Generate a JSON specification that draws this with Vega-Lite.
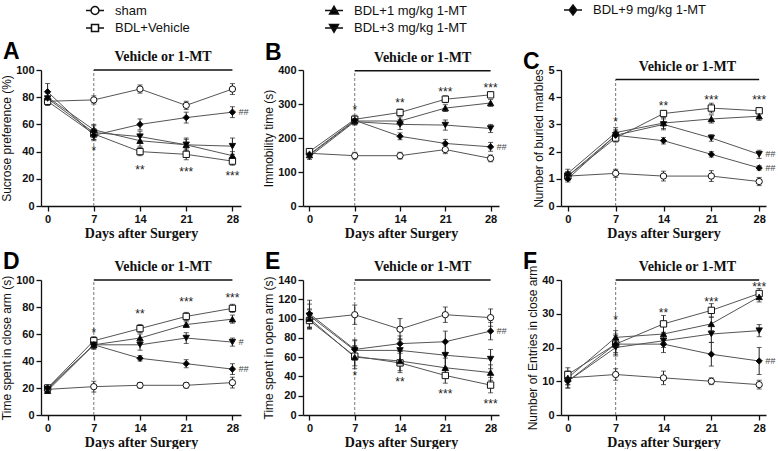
{
"$schema": "https://vega.github.io/schema/vega-lite/v6.json",
"background": "white",
"padding": {"left": 0, "top": 0, "right": 0, "bottom": 0},
"datasets": {
"period": [{"start": 7, "end": 28, "label": "Vehicle or 1-MT"}],
"series": [
{"p":"A","g":"sham","d":0,"m":77,"e":3},{"p":"A","g":"sham","d":7,"m":78,"e":3},{"p":"A","g":"sham","d":14,"m":86,"e":3},{"p":"A","g":"sham","d":21,"m":74,"e":3},{"p":"A","g":"sham","d":28,"m":86,"e":4},
{"p":"A","g":"BDL+Vehicle","d":0,"m":77,"e":3},{"p":"A","g":"BDL+Vehicle","d":7,"m":53,"e":4},{"p":"A","g":"BDL+Vehicle","d":14,"m":40,"e":3},{"p":"A","g":"BDL+Vehicle","d":21,"m":38,"e":4},{"p":"A","g":"BDL+Vehicle","d":28,"m":33,"e":3},
{"p":"A","g":"BDL+1 mg/kg 1-MT","d":0,"m":80,"e":4},{"p":"A","g":"BDL+1 mg/kg 1-MT","d":7,"m":56,"e":4},{"p":"A","g":"BDL+1 mg/kg 1-MT","d":14,"m":48,"e":4},{"p":"A","g":"BDL+1 mg/kg 1-MT","d":21,"m":45,"e":4},{"p":"A","g":"BDL+1 mg/kg 1-MT","d":28,"m":37,"e":3},
{"p":"A","g":"BDL+3 mg/kg 1-MT","d":0,"m":79,"e":4},{"p":"A","g":"BDL+3 mg/kg 1-MT","d":7,"m":54,"e":5},{"p":"A","g":"BDL+3 mg/kg 1-MT","d":14,"m":51,"e":4},{"p":"A","g":"BDL+3 mg/kg 1-MT","d":21,"m":45,"e":5},{"p":"A","g":"BDL+3 mg/kg 1-MT","d":28,"m":44,"e":6},
{"p":"A","g":"BDL+9 mg/kg 1-MT","d":0,"m":84,"e":6},{"p":"A","g":"BDL+9 mg/kg 1-MT","d":7,"m":52,"e":4},{"p":"A","g":"BDL+9 mg/kg 1-MT","d":14,"m":60,"e":4},{"p":"A","g":"BDL+9 mg/kg 1-MT","d":21,"m":65,"e":4},{"p":"A","g":"BDL+9 mg/kg 1-MT","d":28,"m":69,"e":4},
{"p":"B","g":"sham","d":0,"m":155,"e":8},{"p":"B","g":"sham","d":7,"m":148,"e":10},{"p":"B","g":"sham","d":14,"m":148,"e":10},{"p":"B","g":"sham","d":21,"m":166,"e":12},{"p":"B","g":"sham","d":28,"m":140,"e":10},
{"p":"B","g":"BDL+Vehicle","d":0,"m":160,"e":8},{"p":"B","g":"BDL+Vehicle","d":7,"m":255,"e":12},{"p":"B","g":"BDL+Vehicle","d":14,"m":275,"e":10},{"p":"B","g":"BDL+Vehicle","d":21,"m":314,"e":10},{"p":"B","g":"BDL+Vehicle","d":28,"m":327,"e":8},
{"p":"B","g":"BDL+1 mg/kg 1-MT","d":0,"m":150,"e":8},{"p":"B","g":"BDL+1 mg/kg 1-MT","d":7,"m":250,"e":10},{"p":"B","g":"BDL+1 mg/kg 1-MT","d":14,"m":250,"e":12},{"p":"B","g":"BDL+1 mg/kg 1-MT","d":21,"m":288,"e":10},{"p":"B","g":"BDL+1 mg/kg 1-MT","d":28,"m":303,"e":10},
{"p":"B","g":"BDL+3 mg/kg 1-MT","d":0,"m":145,"e":8},{"p":"B","g":"BDL+3 mg/kg 1-MT","d":7,"m":248,"e":10},{"p":"B","g":"BDL+3 mg/kg 1-MT","d":14,"m":240,"e":15},{"p":"B","g":"BDL+3 mg/kg 1-MT","d":21,"m":238,"e":15},{"p":"B","g":"BDL+3 mg/kg 1-MT","d":28,"m":228,"e":12},
{"p":"B","g":"BDL+9 mg/kg 1-MT","d":0,"m":152,"e":8},{"p":"B","g":"BDL+9 mg/kg 1-MT","d":7,"m":252,"e":10},{"p":"B","g":"BDL+9 mg/kg 1-MT","d":14,"m":205,"e":10},{"p":"B","g":"BDL+9 mg/kg 1-MT","d":21,"m":184,"e":12},{"p":"B","g":"BDL+9 mg/kg 1-MT","d":28,"m":174,"e":13},
{"p":"C","g":"sham","d":0,"m":1.1,"e":0.15},{"p":"C","g":"sham","d":7,"m":1.2,"e":0.15},{"p":"C","g":"sham","d":14,"m":1.1,"e":0.18},{"p":"C","g":"sham","d":21,"m":1.1,"e":0.2},{"p":"C","g":"sham","d":28,"m":0.9,"e":0.15},
{"p":"C","g":"BDL+Vehicle","d":0,"m":1.1,"e":0.15},{"p":"C","g":"BDL+Vehicle","d":7,"m":2.5,"e":0.15},{"p":"C","g":"BDL+Vehicle","d":14,"m":3.4,"e":0.1},{"p":"C","g":"BDL+Vehicle","d":21,"m":3.6,"e":0.18},{"p":"C","g":"BDL+Vehicle","d":28,"m":3.5,"e":0.1},
{"p":"C","g":"BDL+1 mg/kg 1-MT","d":0,"m":1.2,"e":0.15},{"p":"C","g":"BDL+1 mg/kg 1-MT","d":7,"m":2.7,"e":0.18},{"p":"C","g":"BDL+1 mg/kg 1-MT","d":14,"m":3.05,"e":0.2},{"p":"C","g":"BDL+1 mg/kg 1-MT","d":21,"m":3.2,"e":0.15},{"p":"C","g":"BDL+1 mg/kg 1-MT","d":28,"m":3.3,"e":0.15},
{"p":"C","g":"BDL+3 mg/kg 1-MT","d":0,"m":1.1,"e":0.15},{"p":"C","g":"BDL+3 mg/kg 1-MT","d":7,"m":2.6,"e":0.2},{"p":"C","g":"BDL+3 mg/kg 1-MT","d":14,"m":3.0,"e":0.2},{"p":"C","g":"BDL+3 mg/kg 1-MT","d":21,"m":2.5,"e":0.12},{"p":"C","g":"BDL+3 mg/kg 1-MT","d":28,"m":1.9,"e":0.15},
{"p":"C","g":"BDL+9 mg/kg 1-MT","d":0,"m":1.0,"e":0.12},{"p":"C","g":"BDL+9 mg/kg 1-MT","d":7,"m":2.6,"e":0.15},{"p":"C","g":"BDL+9 mg/kg 1-MT","d":14,"m":2.4,"e":0.12},{"p":"C","g":"BDL+9 mg/kg 1-MT","d":21,"m":1.9,"e":0.1},{"p":"C","g":"BDL+9 mg/kg 1-MT","d":28,"m":1.4,"e":0.08},
{"p":"D","g":"sham","d":0,"m":19,"e":2},{"p":"D","g":"sham","d":7,"m":21,"e":4},{"p":"D","g":"sham","d":14,"m":22,"e":2},{"p":"D","g":"sham","d":21,"m":22,"e":2},{"p":"D","g":"sham","d":28,"m":24,"e":4},
{"p":"D","g":"BDL+Vehicle","d":0,"m":20,"e":2},{"p":"D","g":"BDL+Vehicle","d":7,"m":55,"e":3},{"p":"D","g":"BDL+Vehicle","d":14,"m":64,"e":3},{"p":"D","g":"BDL+Vehicle","d":21,"m":73,"e":3},{"p":"D","g":"BDL+Vehicle","d":28,"m":79,"e":3},
{"p":"D","g":"BDL+1 mg/kg 1-MT","d":0,"m":18,"e":2},{"p":"D","g":"BDL+1 mg/kg 1-MT","d":7,"m":52,"e":3},{"p":"D","g":"BDL+1 mg/kg 1-MT","d":14,"m":57,"e":3},{"p":"D","g":"BDL+1 mg/kg 1-MT","d":21,"m":67,"e":2},{"p":"D","g":"BDL+1 mg/kg 1-MT","d":28,"m":71,"e":3},
{"p":"D","g":"BDL+3 mg/kg 1-MT","d":0,"m":19,"e":2},{"p":"D","g":"BDL+3 mg/kg 1-MT","d":7,"m":52,"e":3},{"p":"D","g":"BDL+3 mg/kg 1-MT","d":14,"m":52,"e":4},{"p":"D","g":"BDL+3 mg/kg 1-MT","d":21,"m":57,"e":4},{"p":"D","g":"BDL+3 mg/kg 1-MT","d":28,"m":54,"e":3},
{"p":"D","g":"BDL+9 mg/kg 1-MT","d":0,"m":20,"e":2},{"p":"D","g":"BDL+9 mg/kg 1-MT","d":7,"m":52,"e":3},{"p":"D","g":"BDL+9 mg/kg 1-MT","d":14,"m":42,"e":2},{"p":"D","g":"BDL+9 mg/kg 1-MT","d":21,"m":38,"e":3},{"p":"D","g":"BDL+9 mg/kg 1-MT","d":28,"m":34,"e":4},
{"p":"E","g":"sham","d":0,"m":99,"e":10},{"p":"E","g":"sham","d":7,"m":104,"e":10},{"p":"E","g":"sham","d":14,"m":89,"e":11},{"p":"E","g":"sham","d":21,"m":104,"e":8},{"p":"E","g":"sham","d":28,"m":101,"e":9},
{"p":"E","g":"BDL+Vehicle","d":0,"m":98,"e":8},{"p":"E","g":"BDL+Vehicle","d":7,"m":61,"e":10},{"p":"E","g":"BDL+Vehicle","d":14,"m":54,"e":10},{"p":"E","g":"BDL+Vehicle","d":21,"m":41,"e":8},{"p":"E","g":"BDL+Vehicle","d":28,"m":31,"e":8},
{"p":"E","g":"BDL+1 mg/kg 1-MT","d":0,"m":100,"e":10},{"p":"E","g":"BDL+1 mg/kg 1-MT","d":7,"m":60,"e":12},{"p":"E","g":"BDL+1 mg/kg 1-MT","d":14,"m":56,"e":10},{"p":"E","g":"BDL+1 mg/kg 1-MT","d":21,"m":49,"e":10},{"p":"E","g":"BDL+1 mg/kg 1-MT","d":28,"m":44,"e":8},
{"p":"E","g":"BDL+3 mg/kg 1-MT","d":0,"m":103,"e":12},{"p":"E","g":"BDL+3 mg/kg 1-MT","d":7,"m":67,"e":10},{"p":"E","g":"BDL+3 mg/kg 1-MT","d":14,"m":67,"e":12},{"p":"E","g":"BDL+3 mg/kg 1-MT","d":21,"m":62,"e":14},{"p":"E","g":"BDL+3 mg/kg 1-MT","d":28,"m":58,"e":10},
{"p":"E","g":"BDL+9 mg/kg 1-MT","d":0,"m":105,"e":14},{"p":"E","g":"BDL+9 mg/kg 1-MT","d":7,"m":68,"e":10},{"p":"E","g":"BDL+9 mg/kg 1-MT","d":14,"m":74,"e":8},{"p":"E","g":"BDL+9 mg/kg 1-MT","d":21,"m":76,"e":11},{"p":"E","g":"BDL+9 mg/kg 1-MT","d":28,"m":87,"e":9},
{"p":"F","g":"sham","d":0,"m":11,"e":2},{"p":"F","g":"sham","d":7,"m":12,"e":1.7},{"p":"F","g":"sham","d":14,"m":11,"e":2},{"p":"F","g":"sham","d":21,"m":10,"e":1},{"p":"F","g":"sham","d":28,"m":9,"e":1.3},
{"p":"F","g":"BDL+Vehicle","d":0,"m":12,"e":2},{"p":"F","g":"BDL+Vehicle","d":7,"m":21,"e":3},{"p":"F","g":"BDL+Vehicle","d":14,"m":27,"e":2.5},{"p":"F","g":"BDL+Vehicle","d":21,"m":31,"e":2},{"p":"F","g":"BDL+Vehicle","d":28,"m":36,"e":1.5},
{"p":"F","g":"BDL+1 mg/kg 1-MT","d":0,"m":11,"e":2},{"p":"F","g":"BDL+1 mg/kg 1-MT","d":7,"m":23,"e":2},{"p":"F","g":"BDL+1 mg/kg 1-MT","d":14,"m":24,"e":2.5},{"p":"F","g":"BDL+1 mg/kg 1-MT","d":21,"m":27,"e":2},{"p":"F","g":"BDL+1 mg/kg 1-MT","d":28,"m":35,"e":1.5},
{"p":"F","g":"BDL+3 mg/kg 1-MT","d":0,"m":10,"e":2},{"p":"F","g":"BDL+3 mg/kg 1-MT","d":7,"m":20,"e":2.5},{"p":"F","g":"BDL+3 mg/kg 1-MT","d":14,"m":22,"e":2},{"p":"F","g":"BDL+3 mg/kg 1-MT","d":21,"m":24,"e":2.5},{"p":"F","g":"BDL+3 mg/kg 1-MT","d":28,"m":25,"e":1.8},
{"p":"F","g":"BDL+9 mg/kg 1-MT","d":0,"m":10,"e":2},{"p":"F","g":"BDL+9 mg/kg 1-MT","d":7,"m":21,"e":2.5},{"p":"F","g":"BDL+9 mg/kg 1-MT","d":14,"m":21,"e":2.5},{"p":"F","g":"BDL+9 mg/kg 1-MT","d":21,"m":18,"e":3.5},{"p":"F","g":"BDL+9 mg/kg 1-MT","d":28,"m":16,"e":4}
],
"notes": [
{"p":"A","k":"s","d":7,"y":43,"t":"*"},{"p":"A","k":"s","d":14,"y":29,"t":"**"},{"p":"A","k":"s","d":21,"y":27,"t":"***"},{"p":"A","k":"s","d":28,"y":24,"t":"***"},{"p":"A","k":"h","d":28,"y":69,"t":"##"},
{"p":"B","k":"s","d":7,"y":290,"t":"*"},{"p":"B","k":"s","d":14,"y":312,"t":"**"},{"p":"B","k":"s","d":21,"y":345,"t":"***"},{"p":"B","k":"s","d":28,"y":355,"t":"***"},{"p":"B","k":"h","d":28,"y":174,"t":"##"},
{"p":"C","k":"s","d":7,"y":3.2,"t":"*"},{"p":"C","k":"s","d":14,"y":3.8,"t":"**"},{"p":"C","k":"s","d":21,"y":4.0,"t":"***"},{"p":"C","k":"s","d":28,"y":4.0,"t":"***"},{"p":"C","k":"h","d":28,"y":1.9,"t":"##"},{"p":"C","k":"h","d":28,"y":1.4,"t":"##"},
{"p":"D","k":"s","d":7,"y":63,"t":"*"},{"p":"D","k":"s","d":14,"y":77,"t":"**"},{"p":"D","k":"s","d":21,"y":86,"t":"***"},{"p":"D","k":"s","d":28,"y":89,"t":"***"},{"p":"D","k":"h","d":28,"y":54,"t":"#"},{"p":"D","k":"h","d":28,"y":34,"t":"##"},
{"p":"E","k":"s","d":7,"y":44,"t":"*"},{"p":"E","k":"s","d":14,"y":37,"t":"**"},{"p":"E","k":"s","d":21,"y":25,"t":"***"},{"p":"E","k":"s","d":28,"y":15,"t":"***"},{"p":"E","k":"h","d":28,"y":87,"t":"##"},
{"p":"F","k":"s","d":7,"y":29,"t":"*"},{"p":"F","k":"s","d":14,"y":31,"t":"**"},{"p":"F","k":"s","d":21,"y":34.5,"t":"***"},{"p":"F","k":"s","d":28,"y":38.7,"t":"***"},{"p":"F","k":"h","d":28,"y":16,"t":"##"}
]
},
"columns": 3,
"spacing": {"row": 74, "column": 62},
"bounds": "flush",
"concat": [
{
"width": 200, "height": 136,
"title": {"text": "A", "dx": -38, "offset": -14},
"layer": [
{"data": {"name": "period"}, "mark": {"type": "rule", "color": "#777", "strokeDash": [3, 2], "strokeWidth": 1}, "encoding": {"x": {"field": "start", "type": "quantitative"}, "y": {"datum": 0, "type": "quantitative"}, "y2": {"datum": 100}}},
{"data": {"name": "series"}, "transform": [{"filter": "datum.p=='A'"}], "mark": {"type": "line", "color": "#555", "strokeWidth": 1}, "encoding": {"x": {"field": "d", "type": "quantitative", "scale": {"domain": [-1, 29.3], "nice": false, "zero": false}, "axis": {"values": [0, 7, 14, 21, 28], "title": "Days after Surgery"}}, "y": {"field": "m", "type": "quantitative", "scale": {"domain": [0, 100], "nice": false}, "axis": {"tickCount": 5, "title": "Sucrose preference (%)", "labelOverlap": false, "labelSeparation": 0}}, "detail": {"field": "g"}}},
{"data": {"name": "period"}, "mark": {"type": "rule", "color": "#111", "strokeWidth": 1.5}, "encoding": {"x": {"field": "start", "type": "quantitative"}, "x2": {"field": "end"}, "y": {"datum": 100, "type": "quantitative"}}},
{"data": {"name": "period"}, "mark": {"type": "text", "font": "Liberation Serif", "fontWeight": "bold", "fontSize": 14, "dy": -13, "color": "#111"}, "encoding": {"x": {"datum": 17.5, "type": "quantitative"}, "y": {"datum": 100, "type": "quantitative"}, "text": {"field": "label"}}},
{"data": {"name": "series"}, "transform": [{"filter": "datum.p=='A'"}], "mark": {"type": "errorbar", "ticks": true, "color": "#222"}, "encoding": {"x": {"field": "d", "type": "quantitative"}, "y": {"field": "m", "type": "quantitative", "title": "Sucrose preference (%)"}, "yError": {"field": "e"}}},
{"data": {"name": "series"}, "transform": [{"filter": "datum.p=='A'"}], "mark": {"type": "point", "filled": true, "size": 40, "stroke": "#111", "strokeWidth": 1, "opacity": 1}, "encoding": {"x": {"field": "d", "type": "quantitative"}, "y": {"field": "m", "type": "quantitative", "title": "Sucrose preference (%)"}, "shape": {"condition": [{"test": "datum.g==='sham'", "value": "circle"}, {"test": "datum.g==='BDL+Vehicle'", "value": "square"}, {"test": "datum.g==='BDL+1 mg/kg 1-MT'", "value": "triangle-up"}, {"test": "datum.g==='BDL+3 mg/kg 1-MT'", "value": "triangle-down"}], "value": "diamond"}, "fill": {"condition": {"test": "datum.g==='sham' || datum.g==='BDL+Vehicle'", "value": "white"}, "value": "black"}}},
{"data": {"name": "series"}, "transform": [{"filter": "false"}], "mark": {"type": "point", "filled": true, "stroke": "#111", "strokeWidth": 1, "opacity": 1}, "encoding": {"x": {"field": "d", "type": "quantitative"}, "y": {"field": "m", "type": "quantitative", "title": "Sucrose preference (%)"}, "shape": {"field": "g", "type": "nominal", "scale": {"domain": ["sham", "BDL+1 mg/kg 1-MT", "BDL+9 mg/kg 1-MT", "BDL+Vehicle", "BDL+3 mg/kg 1-MT"], "range": ["M-1,0H-0.44M0.44,0H1M0.44,0A0.44,0.44 0 1,1 -0.44,0A0.44,0.44 0 1,1 0.44,0Z", "M-1,0H1M-0.5,0.4L0,-0.48L0.5,0.4Z", "M-1,0H1M0,-0.55L0.42,0L0,0.55L-0.42,0Z", "M-1,0H-0.39M0.39,0H1M-0.39,-0.39H0.39V0.39H-0.39Z", "M-1,0H1M-0.5,-0.4L0,0.48L0.5,-0.4Z"]}, "legend": {"title": null}}, "fill": {"field": "g", "type": "nominal", "scale": {"domain": ["sham", "BDL+1 mg/kg 1-MT", "BDL+9 mg/kg 1-MT", "BDL+Vehicle", "BDL+3 mg/kg 1-MT"], "range": ["white", "black", "black", "white", "black"]}, "legend": {"title": null}}}},
{"data": {"name": "notes"}, "transform": [{"filter": "datum.p=='A' && datum.k=='s'"}], "mark": {"type": "text", "fontSize": 12, "color": "#222", "dy": 3}, "encoding": {"x": {"field": "d", "type": "quantitative"}, "y": {"field": "y", "type": "quantitative"}, "text": {"field": "t"}}},
{"data": {"name": "notes"}, "transform": [{"filter": "datum.p=='A' && datum.k=='h'"}], "mark": {"type": "text", "fontSize": 9, "fontStyle": "italic", "color": "#444", "align": "left", "dx": 6}, "encoding": {"x": {"field": "d", "type": "quantitative"}, "y": {"field": "y", "type": "quantitative"}, "text": {"field": "t"}}}
]
},
{
"width": 196, "height": 136,
"title": {"text": "B", "dx": -38, "offset": -14},
"layer": [
{"data": {"name": "period"}, "mark": {"type": "rule", "color": "#777", "strokeDash": [3, 2], "strokeWidth": 1}, "encoding": {"x": {"field": "start", "type": "quantitative"}, "y": {"datum": 0, "type": "quantitative"}, "y2": {"datum": 398}}},
{"data": {"name": "series"}, "transform": [{"filter": "datum.p=='B'"}], "mark": {"type": "line", "color": "#555", "strokeWidth": 1}, "encoding": {"x": {"field": "d", "type": "quantitative", "scale": {"domain": [-1, 29.3], "nice": false, "zero": false}, "axis": {"values": [0, 7, 14, 21, 28], "title": "Days after Surgery"}}, "y": {"field": "m", "type": "quantitative", "scale": {"domain": [0, 400], "nice": false}, "axis": {"tickCount": 4, "title": "Immobility time (s)", "labelOverlap": false, "labelSeparation": 0}}, "detail": {"field": "g"}}},
{"data": {"name": "period"}, "mark": {"type": "rule", "color": "#111", "strokeWidth": 1.5}, "encoding": {"x": {"field": "start", "type": "quantitative"}, "x2": {"field": "end"}, "y": {"datum": 398, "type": "quantitative"}}},
{"data": {"name": "period"}, "mark": {"type": "text", "font": "Liberation Serif", "fontWeight": "bold", "fontSize": 14, "dy": -13, "color": "#111"}, "encoding": {"x": {"datum": 17.5, "type": "quantitative"}, "y": {"datum": 398, "type": "quantitative"}, "text": {"field": "label"}}},
{"data": {"name": "series"}, "transform": [{"filter": "datum.p=='B'"}], "mark": {"type": "errorbar", "ticks": true, "color": "#222"}, "encoding": {"x": {"field": "d", "type": "quantitative"}, "y": {"field": "m", "type": "quantitative", "title": "Immobility time (s)"}, "yError": {"field": "e"}}},
{"data": {"name": "series"}, "transform": [{"filter": "datum.p=='B'"}], "mark": {"type": "point", "filled": true, "size": 40, "stroke": "#111", "strokeWidth": 1, "opacity": 1}, "encoding": {"x": {"field": "d", "type": "quantitative"}, "y": {"field": "m", "type": "quantitative", "title": "Immobility time (s)"}, "shape": {"condition": [{"test": "datum.g==='sham'", "value": "circle"}, {"test": "datum.g==='BDL+Vehicle'", "value": "square"}, {"test": "datum.g==='BDL+1 mg/kg 1-MT'", "value": "triangle-up"}, {"test": "datum.g==='BDL+3 mg/kg 1-MT'", "value": "triangle-down"}], "value": "diamond"}, "fill": {"condition": {"test": "datum.g==='sham' || datum.g==='BDL+Vehicle'", "value": "white"}, "value": "black"}}},
{"data": {"name": "notes"}, "transform": [{"filter": "datum.p=='B' && datum.k=='s'"}], "mark": {"type": "text", "fontSize": 12, "color": "#222", "dy": 3}, "encoding": {"x": {"field": "d", "type": "quantitative"}, "y": {"field": "y", "type": "quantitative"}, "text": {"field": "t"}}},
{"data": {"name": "notes"}, "transform": [{"filter": "datum.p=='B' && datum.k=='h'"}], "mark": {"type": "text", "fontSize": 9, "fontStyle": "italic", "color": "#444", "align": "left", "dx": 6}, "encoding": {"x": {"field": "d", "type": "quantitative"}, "y": {"field": "y", "type": "quantitative"}, "text": {"field": "t"}}}
]
},
{
"width": 205, "height": 136,
"title": {"text": "C", "dx": -38, "offset": -14},
"layer": [
{"data": {"name": "period"}, "mark": {"type": "rule", "color": "#777", "strokeDash": [3, 2], "strokeWidth": 1}, "encoding": {"x": {"field": "start", "type": "quantitative"}, "y": {"datum": 0, "type": "quantitative"}, "y2": {"datum": 4.65}}},
{"data": {"name": "series"}, "transform": [{"filter": "datum.p=='C'"}], "mark": {"type": "line", "color": "#555", "strokeWidth": 1}, "encoding": {"x": {"field": "d", "type": "quantitative", "scale": {"domain": [-1, 29.0], "nice": false, "zero": false}, "axis": {"values": [0, 7, 14, 21, 28], "title": "Days after Surgery"}}, "y": {"field": "m", "type": "quantitative", "scale": {"domain": [0, 5], "nice": false}, "axis": {"tickCount": 5, "title": "Number of buried marbles", "labelOverlap": false, "labelSeparation": 0}}, "detail": {"field": "g"}}},
{"data": {"name": "period"}, "mark": {"type": "rule", "color": "#111", "strokeWidth": 1.5}, "encoding": {"x": {"field": "start", "type": "quantitative"}, "x2": {"field": "end"}, "y": {"datum": 4.65, "type": "quantitative"}}},
{"data": {"name": "period"}, "mark": {"type": "text", "font": "Liberation Serif", "fontWeight": "bold", "fontSize": 14, "dy": -13, "color": "#111"}, "encoding": {"x": {"datum": 17.5, "type": "quantitative"}, "y": {"datum": 4.65, "type": "quantitative"}, "text": {"field": "label"}}},
{"data": {"name": "series"}, "transform": [{"filter": "datum.p=='C'"}], "mark": {"type": "errorbar", "ticks": true, "color": "#222"}, "encoding": {"x": {"field": "d", "type": "quantitative"}, "y": {"field": "m", "type": "quantitative", "title": "Number of buried marbles"}, "yError": {"field": "e"}}},
{"data": {"name": "series"}, "transform": [{"filter": "datum.p=='C'"}], "mark": {"type": "point", "filled": true, "size": 40, "stroke": "#111", "strokeWidth": 1, "opacity": 1}, "encoding": {"x": {"field": "d", "type": "quantitative"}, "y": {"field": "m", "type": "quantitative", "title": "Number of buried marbles"}, "shape": {"condition": [{"test": "datum.g==='sham'", "value": "circle"}, {"test": "datum.g==='BDL+Vehicle'", "value": "square"}, {"test": "datum.g==='BDL+1 mg/kg 1-MT'", "value": "triangle-up"}, {"test": "datum.g==='BDL+3 mg/kg 1-MT'", "value": "triangle-down"}], "value": "diamond"}, "fill": {"condition": {"test": "datum.g==='sham' || datum.g==='BDL+Vehicle'", "value": "white"}, "value": "black"}}},
{"data": {"name": "notes"}, "transform": [{"filter": "datum.p=='C' && datum.k=='s'"}], "mark": {"type": "text", "fontSize": 12, "color": "#222", "dy": 3}, "encoding": {"x": {"field": "d", "type": "quantitative"}, "y": {"field": "y", "type": "quantitative"}, "text": {"field": "t"}}},
{"data": {"name": "notes"}, "transform": [{"filter": "datum.p=='C' && datum.k=='h'"}], "mark": {"type": "text", "fontSize": 9, "fontStyle": "italic", "color": "#444", "align": "left", "dx": 6}, "encoding": {"x": {"field": "d", "type": "quantitative"}, "y": {"field": "y", "type": "quantitative"}, "text": {"field": "t"}}}
]
},
{
"width": 200, "height": 135,
"title": {"text": "D", "dx": -38, "offset": -14},
"layer": [
{"data": {"name": "period"}, "mark": {"type": "rule", "color": "#777", "strokeDash": [3, 2], "strokeWidth": 1}, "encoding": {"x": {"field": "start", "type": "quantitative"}, "y": {"datum": 0, "type": "quantitative"}, "y2": {"datum": 100}}},
{"data": {"name": "series"}, "transform": [{"filter": "datum.p=='D'"}], "mark": {"type": "line", "color": "#555", "strokeWidth": 1}, "encoding": {"x": {"field": "d", "type": "quantitative", "scale": {"domain": [-1, 29.3], "nice": false, "zero": false}, "axis": {"values": [0, 7, 14, 21, 28], "title": "Days after Surgery"}}, "y": {"field": "m", "type": "quantitative", "scale": {"domain": [0, 100], "nice": false}, "axis": {"tickCount": 5, "title": "Time spent in close arm (s)", "labelOverlap": false, "labelSeparation": 0}}, "detail": {"field": "g"}}},
{"data": {"name": "period"}, "mark": {"type": "rule", "color": "#111", "strokeWidth": 1.5}, "encoding": {"x": {"field": "start", "type": "quantitative"}, "x2": {"field": "end"}, "y": {"datum": 100, "type": "quantitative"}}},
{"data": {"name": "period"}, "mark": {"type": "text", "font": "Liberation Serif", "fontWeight": "bold", "fontSize": 14, "dy": -13, "color": "#111"}, "encoding": {"x": {"datum": 17.5, "type": "quantitative"}, "y": {"datum": 100, "type": "quantitative"}, "text": {"field": "label"}}},
{"data": {"name": "series"}, "transform": [{"filter": "datum.p=='D'"}], "mark": {"type": "errorbar", "ticks": true, "color": "#222"}, "encoding": {"x": {"field": "d", "type": "quantitative"}, "y": {"field": "m", "type": "quantitative", "title": "Time spent in close arm (s)"}, "yError": {"field": "e"}}},
{"data": {"name": "series"}, "transform": [{"filter": "datum.p=='D'"}], "mark": {"type": "point", "filled": true, "size": 40, "stroke": "#111", "strokeWidth": 1, "opacity": 1}, "encoding": {"x": {"field": "d", "type": "quantitative"}, "y": {"field": "m", "type": "quantitative", "title": "Time spent in close arm (s)"}, "shape": {"condition": [{"test": "datum.g==='sham'", "value": "circle"}, {"test": "datum.g==='BDL+Vehicle'", "value": "square"}, {"test": "datum.g==='BDL+1 mg/kg 1-MT'", "value": "triangle-up"}, {"test": "datum.g==='BDL+3 mg/kg 1-MT'", "value": "triangle-down"}], "value": "diamond"}, "fill": {"condition": {"test": "datum.g==='sham' || datum.g==='BDL+Vehicle'", "value": "white"}, "value": "black"}}},
{"data": {"name": "notes"}, "transform": [{"filter": "datum.p=='D' && datum.k=='s'"}], "mark": {"type": "text", "fontSize": 12, "color": "#222", "dy": 3}, "encoding": {"x": {"field": "d", "type": "quantitative"}, "y": {"field": "y", "type": "quantitative"}, "text": {"field": "t"}}},
{"data": {"name": "notes"}, "transform": [{"filter": "datum.p=='D' && datum.k=='h'"}], "mark": {"type": "text", "fontSize": 9, "fontStyle": "italic", "color": "#444", "align": "left", "dx": 6}, "encoding": {"x": {"field": "d", "type": "quantitative"}, "y": {"field": "y", "type": "quantitative"}, "text": {"field": "t"}}}
]
},
{
"width": 196, "height": 135,
"title": {"text": "E", "dx": -38, "offset": -14},
"layer": [
{"data": {"name": "period"}, "mark": {"type": "rule", "color": "#777", "strokeDash": [3, 2], "strokeWidth": 1}, "encoding": {"x": {"field": "start", "type": "quantitative"}, "y": {"datum": 0, "type": "quantitative"}, "y2": {"datum": 140}}},
{"data": {"name": "series"}, "transform": [{"filter": "datum.p=='E'"}], "mark": {"type": "line", "color": "#555", "strokeWidth": 1}, "encoding": {"x": {"field": "d", "type": "quantitative", "scale": {"domain": [-1, 29.3], "nice": false, "zero": false}, "axis": {"values": [0, 7, 14, 21, 28], "title": "Days after Surgery"}}, "y": {"field": "m", "type": "quantitative", "scale": {"domain": [0, 140], "nice": false}, "axis": {"tickCount": 7, "title": "Time spent in open arm (s)", "labelOverlap": false, "labelSeparation": 0}}, "detail": {"field": "g"}}},
{"data": {"name": "period"}, "mark": {"type": "rule", "color": "#111", "strokeWidth": 1.5}, "encoding": {"x": {"field": "start", "type": "quantitative"}, "x2": {"field": "end"}, "y": {"datum": 140, "type": "quantitative"}}},
{"data": {"name": "period"}, "mark": {"type": "text", "font": "Liberation Serif", "fontWeight": "bold", "fontSize": 14, "dy": -13, "color": "#111"}, "encoding": {"x": {"datum": 17.5, "type": "quantitative"}, "y": {"datum": 140, "type": "quantitative"}, "text": {"field": "label"}}},
{"data": {"name": "series"}, "transform": [{"filter": "datum.p=='E'"}], "mark": {"type": "errorbar", "ticks": true, "color": "#222"}, "encoding": {"x": {"field": "d", "type": "quantitative"}, "y": {"field": "m", "type": "quantitative", "title": "Time spent in open arm (s)"}, "yError": {"field": "e"}}},
{"data": {"name": "series"}, "transform": [{"filter": "datum.p=='E'"}], "mark": {"type": "point", "filled": true, "size": 40, "stroke": "#111", "strokeWidth": 1, "opacity": 1}, "encoding": {"x": {"field": "d", "type": "quantitative"}, "y": {"field": "m", "type": "quantitative", "title": "Time spent in open arm (s)"}, "shape": {"condition": [{"test": "datum.g==='sham'", "value": "circle"}, {"test": "datum.g==='BDL+Vehicle'", "value": "square"}, {"test": "datum.g==='BDL+1 mg/kg 1-MT'", "value": "triangle-up"}, {"test": "datum.g==='BDL+3 mg/kg 1-MT'", "value": "triangle-down"}], "value": "diamond"}, "fill": {"condition": {"test": "datum.g==='sham' || datum.g==='BDL+Vehicle'", "value": "white"}, "value": "black"}}},
{"data": {"name": "notes"}, "transform": [{"filter": "datum.p=='E' && datum.k=='s'"}], "mark": {"type": "text", "fontSize": 12, "color": "#222", "dy": 3}, "encoding": {"x": {"field": "d", "type": "quantitative"}, "y": {"field": "y", "type": "quantitative"}, "text": {"field": "t"}}},
{"data": {"name": "notes"}, "transform": [{"filter": "datum.p=='E' && datum.k=='h'"}], "mark": {"type": "text", "fontSize": 9, "fontStyle": "italic", "color": "#444", "align": "left", "dx": 6}, "encoding": {"x": {"field": "d", "type": "quantitative"}, "y": {"field": "y", "type": "quantitative"}, "text": {"field": "t"}}}
]
},
{
"width": 205, "height": 135,
"title": {"text": "F", "dx": -38, "offset": -14},
"layer": [
{"data": {"name": "period"}, "mark": {"type": "rule", "color": "#777", "strokeDash": [3, 2], "strokeWidth": 1}, "encoding": {"x": {"field": "start", "type": "quantitative"}, "y": {"datum": 0, "type": "quantitative"}, "y2": {"datum": 40}}},
{"data": {"name": "series"}, "transform": [{"filter": "datum.p=='F'"}], "mark": {"type": "line", "color": "#555", "strokeWidth": 1}, "encoding": {"x": {"field": "d", "type": "quantitative", "scale": {"domain": [-1, 29.0], "nice": false, "zero": false}, "axis": {"values": [0, 7, 14, 21, 28], "title": "Days after Surgery"}}, "y": {"field": "m", "type": "quantitative", "scale": {"domain": [0, 40], "nice": false}, "axis": {"tickCount": 4, "title": "Number of Entries in close arm", "labelOverlap": false, "labelSeparation": 0}}, "detail": {"field": "g"}}},
{"data": {"name": "period"}, "mark": {"type": "rule", "color": "#111", "strokeWidth": 1.5}, "encoding": {"x": {"field": "start", "type": "quantitative"}, "x2": {"field": "end"}, "y": {"datum": 40, "type": "quantitative"}}},
{"data": {"name": "period"}, "mark": {"type": "text", "font": "Liberation Serif", "fontWeight": "bold", "fontSize": 14, "dy": -13, "color": "#111"}, "encoding": {"x": {"datum": 17.5, "type": "quantitative"}, "y": {"datum": 40, "type": "quantitative"}, "text": {"field": "label"}}},
{"data": {"name": "series"}, "transform": [{"filter": "datum.p=='F'"}], "mark": {"type": "errorbar", "ticks": true, "color": "#222"}, "encoding": {"x": {"field": "d", "type": "quantitative"}, "y": {"field": "m", "type": "quantitative", "title": "Number of Entries in close arm"}, "yError": {"field": "e"}}},
{"data": {"name": "series"}, "transform": [{"filter": "datum.p=='F'"}], "mark": {"type": "point", "filled": true, "size": 40, "stroke": "#111", "strokeWidth": 1, "opacity": 1}, "encoding": {"x": {"field": "d", "type": "quantitative"}, "y": {"field": "m", "type": "quantitative", "title": "Number of Entries in close arm"}, "shape": {"condition": [{"test": "datum.g==='sham'", "value": "circle"}, {"test": "datum.g==='BDL+Vehicle'", "value": "square"}, {"test": "datum.g==='BDL+1 mg/kg 1-MT'", "value": "triangle-up"}, {"test": "datum.g==='BDL+3 mg/kg 1-MT'", "value": "triangle-down"}], "value": "diamond"}, "fill": {"condition": {"test": "datum.g==='sham' || datum.g==='BDL+Vehicle'", "value": "white"}, "value": "black"}}},
{"data": {"name": "notes"}, "transform": [{"filter": "datum.p=='F' && datum.k=='s'"}], "mark": {"type": "text", "fontSize": 12, "color": "#222", "dy": 3}, "encoding": {"x": {"field": "d", "type": "quantitative"}, "y": {"field": "y", "type": "quantitative"}, "text": {"field": "t"}}},
{"data": {"name": "notes"}, "transform": [{"filter": "datum.p=='F' && datum.k=='h'"}], "mark": {"type": "text", "fontSize": 9, "fontStyle": "italic", "color": "#444", "align": "left", "dx": 6}, "encoding": {"x": {"field": "d", "type": "quantitative"}, "y": {"field": "y", "type": "quantitative"}, "text": {"field": "t"}}}
]
}
],
"config": {
"view": {"stroke": null},
"font": "Liberation Sans",
"title": {"fontSize": 23, "font": "Liberation Sans", "fontWeight": "bold", "anchor": "start", "frame": "group", "color": "black"},
"axis": {"grid": false, "domainColor": "#111", "tickColor": "#111", "labelColor": "#111", "titleColor": "#111", "labelFont": "Liberation Sans", "labelFontSize": 11, "labelFontWeight": "bold", "tickSize": 5, "labelPadding": 2, "domainWidth": 1.3, "tickWidth": 1.3, "labelOverlap": false},
"axisX": {"titleFont": "Liberation Serif", "titleFontSize": 14, "titleFontWeight": "bold", "titlePadding": 2},
"axisY": {"titleFont": "Liberation Sans", "titleFontSize": 12, "titleFontWeight": "normal", "titlePadding": 2},
"legend": {"orient": "none", "legendX": 44, "legendY": -70, "direction": "horizontal", "columns": 3, "gridAlign": "all", "columnPadding": 93, "rowPadding": -1, "labelFont": "Liberation Sans", "labelFontSize": 13, "labelColor": "#111", "symbolSize": 324, "labelOffset": 10}
}
}
